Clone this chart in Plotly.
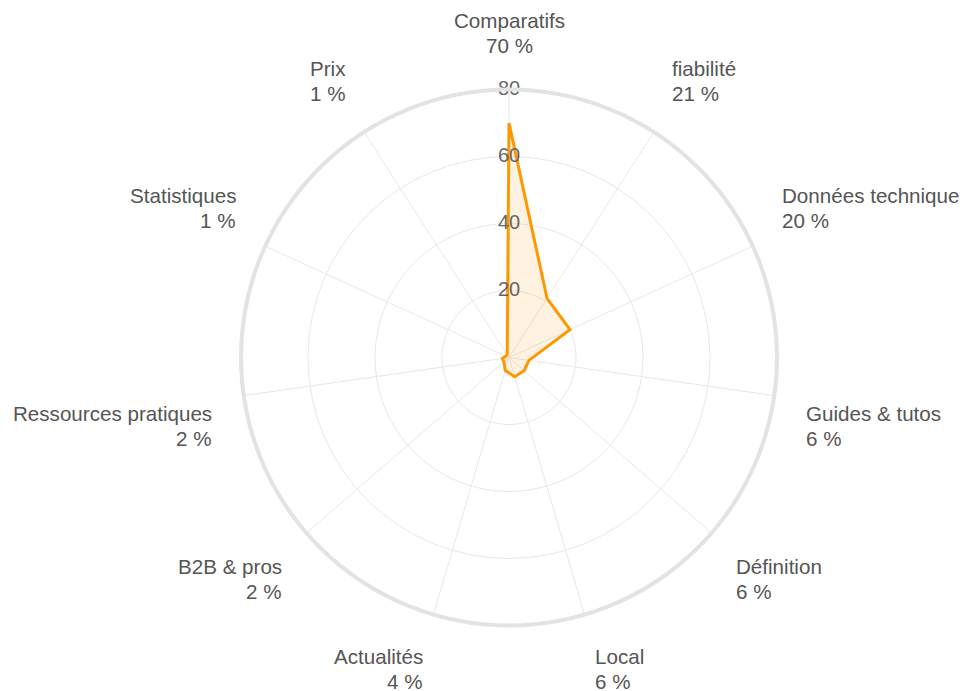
import math
import plotly.graph_objects as go

categories = ["Comparatifs", "fiabilité", "Données technique", "Guides & tutos",
              "Définition", "Local", "Actualités", "B2B & pros",
              "Ressources pratiques", "Statistiques", "Prix"]
values = [70, 21, 20, 6, 6, 6, 4, 2, 2, 1, 1]
radial_ticks = [20, 40, 60, 80]
radial_max = 80

W, H = 966, 691
CX, CY = 509, 357.5   # pixel centre (from top)
R = 268               # pixel radius
LABEL_R = R + 30
LINE_GAP = 25         # px between the two label lines
FONT = "Liberation Sans, Arial, sans-serif"

fig = go.Figure()

fig.add_trace(go.Scatterpolar(
    r=values + [values[0]],
    theta=categories + [categories[0]],
    mode="lines",
    line=dict(color="#FF9800", width=3),
    fill="toself",
    fillcolor="rgba(255,152,0,0.12)",
    hoverinfo="skip",
))

fig.add_trace(go.Scatterpolar(
    r=radial_ticks,
    theta=[categories[0]] * len(radial_ticks),
    mode="text",
    text=[str(v) for v in radial_ticks],
    textposition="middle center",
    textfont=dict(family=FONT, size=20, color="#666666"),
    hoverinfo="skip",
))

annotations = []
n = len(categories)
for i, (cat, v) in enumerate(zip(categories, values)):
    ang = math.radians(90 - i * 360 / n)
    c, s = math.cos(ang), math.sin(ang)
    px = CX + LABEL_R * c
    py = (H - CY) + LABEL_R * s
    xa = "left" if c > 0.01 else ("right" if c < -0.01 else "center")
    if s > 0.01:
        ya = "bottom"
        y_name, y_val = py + LINE_GAP, py
    elif s < -0.01:
        ya = "top"
        y_name, y_val = py, py - LINE_GAP
    else:
        ya = "middle"
        y_name, y_val = py + LINE_GAP / 2, py - LINE_GAP / 2
    for txt, yy in ((cat, y_name), (f"{v} %", y_val)):
        annotations.append(dict(
            x=px / W, y=yy / H, xref="paper", yref="paper",
            text=txt, showarrow=False,
            xanchor=xa, yanchor=ya, align=xa,
            font=dict(family=FONT, size=20.6, color="#555555"),
        ))

fig.update_layout(
    width=W, height=H,
    margin=dict(l=0, r=0, t=0, b=0),
    paper_bgcolor="white",
    showlegend=False,
    annotations=annotations,
    polar=dict(
        domain=dict(x=[(CX - R) / W, (CX + R) / W],
                    y=[(H - CY - R) / H, (H - CY + R) / H]),
        bgcolor="white",
        angularaxis=dict(
            direction="clockwise", rotation=90,
            showticklabels=False, ticks="",
            showline=True, linecolor="#e3e3e3", linewidth=4,
            showgrid=True, gridcolor="#e8e8e8", gridwidth=1,
        ),
        radialaxis=dict(
            range=[0, radial_max], tickvals=radial_ticks,
            showticklabels=False, ticks="", showline=False,
            showgrid=True, gridcolor="#e8e8e8", gridwidth=1,
        ),
    ),
)

fig.write_html("out.html",
               config={"displayModeBar": False},
               post_script="document.body.style.margin='0';document.body.style.overflow='hidden';")
